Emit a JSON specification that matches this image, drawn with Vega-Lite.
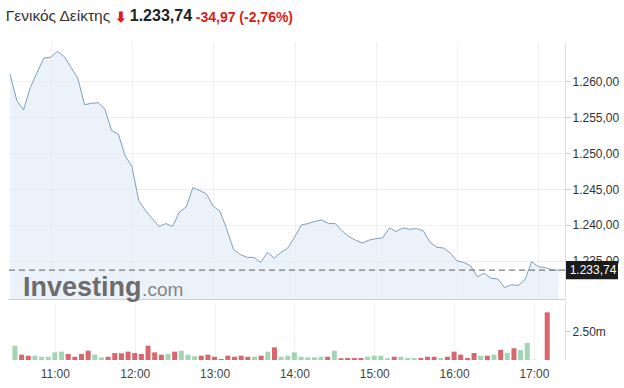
{
  "$schema": "https://vega.github.io/schema/vega-lite/v6.json",
  "padding": {"left": 5, "top": 8, "right": 0, "bottom": 0},
  "spacing": 0,
  "config": {
    "font": "Liberation Sans",
    "view": {"stroke": null},
    "locale": {"number": {"decimal": ",", "thousands": ".", "grouping": [3], "currency": ["", " €"]}}
  },
  "datasets": {
    "s": [
      {"t": "2024-01-02 10:30", "p": 1260.97, "v": 1230000, "d": "up"},
      {"t": "2024-01-02 10:35", "p": 1257.3, "v": 460000, "d": "down"},
      {"t": "2024-01-02 10:40", "p": 1256.0, "v": 370000, "d": "down"},
      {"t": "2024-01-02 10:45", "p": 1259.1, "v": 370000, "d": "up"},
      {"t": "2024-01-02 10:50", "p": 1261.2, "v": 280000, "d": "up"},
      {"t": "2024-01-02 10:55", "p": 1263.2, "v": 280000, "d": "up"},
      {"t": "2024-01-02 11:00", "p": 1263.3, "v": 660000, "d": "up"},
      {"t": "2024-01-02 11:05", "p": 1264.1, "v": 720000, "d": "up"},
      {"t": "2024-01-02 11:10", "p": 1263.4, "v": 520000, "d": "down"},
      {"t": "2024-01-02 11:15", "p": 1261.9, "v": 280000, "d": "down"},
      {"t": "2024-01-02 11:20", "p": 1260.4, "v": 520000, "d": "down"},
      {"t": "2024-01-02 11:25", "p": 1256.7, "v": 800000, "d": "down"},
      {"t": "2024-01-02 11:30", "p": 1256.9, "v": 460000, "d": "up"},
      {"t": "2024-01-02 11:35", "p": 1257.0, "v": 230000, "d": "up"},
      {"t": "2024-01-02 11:40", "p": 1256.1, "v": 280000, "d": "down"},
      {"t": "2024-01-02 11:45", "p": 1253.1, "v": 600000, "d": "down"},
      {"t": "2024-01-02 11:50", "p": 1252.6, "v": 580000, "d": "down"},
      {"t": "2024-01-02 11:55", "p": 1249.6, "v": 720000, "d": "down"},
      {"t": "2024-01-02 12:00", "p": 1248.1, "v": 600000, "d": "down"},
      {"t": "2024-01-02 12:05", "p": 1243.4, "v": 520000, "d": "down"},
      {"t": "2024-01-02 12:10", "p": 1242.0, "v": 1230000, "d": "down"},
      {"t": "2024-01-02 12:15", "p": 1240.9, "v": 660000, "d": "down"},
      {"t": "2024-01-02 12:20", "p": 1239.8, "v": 460000, "d": "down"},
      {"t": "2024-01-02 12:25", "p": 1240.2, "v": 520000, "d": "up"},
      {"t": "2024-01-02 12:30", "p": 1239.8, "v": 720000, "d": "down"},
      {"t": "2024-01-02 12:35", "p": 1241.8, "v": 800000, "d": "up"},
      {"t": "2024-01-02 12:40", "p": 1242.5, "v": 460000, "d": "up"},
      {"t": "2024-01-02 12:45", "p": 1245.2, "v": 320000, "d": "up"},
      {"t": "2024-01-02 12:50", "p": 1244.8, "v": 370000, "d": "down"},
      {"t": "2024-01-02 12:55", "p": 1244.3, "v": 460000, "d": "down"},
      {"t": "2024-01-02 13:00", "p": 1242.6, "v": 280000, "d": "down"},
      {"t": "2024-01-02 13:05", "p": 1241.9, "v": 90000, "d": "down"},
      {"t": "2024-01-02 13:10", "p": 1239.4, "v": 370000, "d": "down"},
      {"t": "2024-01-02 13:15", "p": 1236.6, "v": 280000, "d": "down"},
      {"t": "2024-01-02 13:20", "p": 1235.9, "v": 370000, "d": "down"},
      {"t": "2024-01-02 13:25", "p": 1235.5, "v": 280000, "d": "down"},
      {"t": "2024-01-02 13:30", "p": 1235.5, "v": 280000, "d": "up"},
      {"t": "2024-01-02 13:35", "p": 1234.8, "v": 370000, "d": "down"},
      {"t": "2024-01-02 13:40", "p": 1236.2, "v": 720000, "d": "up"},
      {"t": "2024-01-02 13:45", "p": 1235.4, "v": 1090000, "d": "down"},
      {"t": "2024-01-02 13:50", "p": 1236.2, "v": 280000, "d": "up"},
      {"t": "2024-01-02 13:55", "p": 1236.8, "v": 370000, "d": "up"},
      {"t": "2024-01-02 14:00", "p": 1238.3, "v": 660000, "d": "up"},
      {"t": "2024-01-02 14:05", "p": 1240.0, "v": 280000, "d": "up"},
      {"t": "2024-01-02 14:10", "p": 1240.2, "v": 230000, "d": "up"},
      {"t": "2024-01-02 14:15", "p": 1240.5, "v": 230000, "d": "up"},
      {"t": "2024-01-02 14:20", "p": 1240.7, "v": 280000, "d": "up"},
      {"t": "2024-01-02 14:25", "p": 1240.2, "v": 280000, "d": "down"},
      {"t": "2024-01-02 14:30", "p": 1240.2, "v": 800000, "d": "up"},
      {"t": "2024-01-02 14:35", "p": 1239.2, "v": 150000, "d": "down"},
      {"t": "2024-01-02 14:40", "p": 1238.4, "v": 170000, "d": "down"},
      {"t": "2024-01-02 14:45", "p": 1237.9, "v": 170000, "d": "down"},
      {"t": "2024-01-02 14:50", "p": 1237.5, "v": 170000, "d": "down"},
      {"t": "2024-01-02 14:55", "p": 1237.9, "v": 280000, "d": "up"},
      {"t": "2024-01-02 15:00", "p": 1238.1, "v": 370000, "d": "up"},
      {"t": "2024-01-02 15:05", "p": 1238.2, "v": 370000, "d": "up"},
      {"t": "2024-01-02 15:10", "p": 1239.6, "v": 150000, "d": "up"},
      {"t": "2024-01-02 15:15", "p": 1239.1, "v": 280000, "d": "down"},
      {"t": "2024-01-02 15:20", "p": 1239.6, "v": 280000, "d": "up"},
      {"t": "2024-01-02 15:25", "p": 1239.4, "v": 170000, "d": "up"},
      {"t": "2024-01-02 15:30", "p": 1239.5, "v": 170000, "d": "up"},
      {"t": "2024-01-02 15:35", "p": 1239.2, "v": 170000, "d": "down"},
      {"t": "2024-01-02 15:40", "p": 1237.6, "v": 280000, "d": "down"},
      {"t": "2024-01-02 15:45", "p": 1236.9, "v": 280000, "d": "down"},
      {"t": "2024-01-02 15:50", "p": 1236.8, "v": 170000, "d": "up"},
      {"t": "2024-01-02 15:55", "p": 1236.1, "v": 280000, "d": "down"},
      {"t": "2024-01-02 16:00", "p": 1235.0, "v": 720000, "d": "down"},
      {"t": "2024-01-02 16:05", "p": 1234.8, "v": 460000, "d": "down"},
      {"t": "2024-01-02 16:10", "p": 1234.3, "v": 170000, "d": "down"},
      {"t": "2024-01-02 16:15", "p": 1232.8, "v": 600000, "d": "down"},
      {"t": "2024-01-02 16:20", "p": 1233.3, "v": 370000, "d": "up"},
      {"t": "2024-01-02 16:25", "p": 1232.6, "v": 370000, "d": "down"},
      {"t": "2024-01-02 16:30", "p": 1232.5, "v": 460000, "d": "up"},
      {"t": "2024-01-02 16:35", "p": 1231.3, "v": 860000, "d": "down"},
      {"t": "2024-01-02 16:40", "p": 1231.7, "v": 600000, "d": "up"},
      {"t": "2024-01-02 16:45", "p": 1231.6, "v": 1010000, "d": "down"},
      {"t": "2024-01-02 16:50", "p": 1232.4, "v": 860000, "d": "up"},
      {"t": "2024-01-02 16:55", "p": 1234.9, "v": 1470000, "d": "up"},
      {"t": "2024-01-02 17:00", "p": 1234.2, "v": 30000, "d": "up"},
      {"t": "2024-01-02 17:05", "p": 1234.1, "v": 0, "d": "up"},
      {"t": "2024-01-02 17:10", "p": 1233.75, "v": 4110000, "d": "down"},
      {"t": "2024-01-02 17:15", "p": 1233.74, "v": 0, "d": "down"}
    ]
  },
  "vconcat": [
    {
      "hconcat": [
        {"width": 1, "height": 18, "data": {"values": [{}]}, "mark": {"type": "point", "opacity": 0}, "encoding": {},
         "title": {"text": "Γενικός Δείκτης", "anchor": "start", "fontSize": 15.5, "fontWeight": "normal", "color": "#333333", "offset": 0}},
        {"width": 1, "height": 18, "data": {"values": [{}]}, "mark": {"type": "point", "opacity": 0}, "encoding": {},
         "title": {"text": "⬇", "anchor": "start", "fontSize": 14, "fontWeight": "bold", "color": "#e0161b", "offset": 0, "dy": 1}},
        {"width": 1, "height": 18, "data": {"values": [{}]}, "mark": {"type": "point", "opacity": 0}, "encoding": {},
         "title": {"text": "1.233,74", "anchor": "start", "fontSize": 16, "fontWeight": "bold", "color": "#222222", "offset": 0}},
        {"width": 1, "height": 18, "data": {"values": [{}]}, "mark": {"type": "point", "opacity": 0}, "encoding": {},
         "title": {"text": "-34,97  (-2,76%)", "anchor": "start", "fontSize": 14, "fontWeight": "bold", "color": "#d91e18", "offset": 0, "dy": 1}}
      ],
      "spacing": 2
    },
    {
      "width": 557,
      "height": 257,
      "layer": [
        {
          "data": {"name": "s"},
          "mark": {"type": "area", "color": "#e4edf6", "line": {"color": "#7f9fbd", "strokeWidth": 1}},
          "encoding": {
            "x": {"field": "t", "type": "temporal",
                  "scale": {"domain": [{"year": 2024, "month": 1, "date": 2, "hours": 10, "minutes": 28, "seconds": 31}, {"year": 2024, "month": 1, "date": 2, "hours": 17, "minutes": 19, "seconds": 36}]},
                  "axis": {"orient": "bottom", "labels": false, "ticks": false, "title": null, "domain": true, "domainColor": "#cfcfcf", "grid": true, "gridColor": "#efefef",
                           "values": [{"year": 2024, "month": 1, "date": 2, "hours": 11}, {"year": 2024, "month": 1, "date": 2, "hours": 12}, {"year": 2024, "month": 1, "date": 2, "hours": 13}, {"year": 2024, "month": 1, "date": 2, "hours": 14}, {"year": 2024, "month": 1, "date": 2, "hours": 15}, {"year": 2024, "month": 1, "date": 2, "hours": 16}, {"year": 2024, "month": 1, "date": 2, "hours": 17}]}},
            "y": {"field": "p", "type": "quantitative",
                  "scale": {"domain": [1229.72, 1265.42], "zero": false, "nice": false},
                  "axis": {"orient": "right", "title": null, "values": [1235, 1240, 1245, 1250, 1255, 1260], "format": ",.2f",
                           "grid": true, "gridColor": "#efefef", "domainColor": "#dddddd", "tickColor": "#cccccc", "tickSize": 5,
                           "labelFontSize": 12, "labelColor": "#333333", "labelPadding": 2}},
            "y2": {"datum": 1229.72}
          }
        },
        {
          "data": {"values": [{"last": 1233.74}]},
          "mark": {"type": "rule", "color": "#7a7a7a", "strokeDash": [6, 4], "strokeWidth": 1.3},
          "encoding": {"y": {"field": "last", "type": "quantitative", "title": null}}
        },
        {
          "data": {"values": [{}]},
          "mark": {"type": "rect", "color": "#1b1b1b", "clip": false, "xOffset": 1, "x2Offset": 53},
          "encoding": {
            "x": {"datum": {"year": 2024, "month": 1, "date": 2, "hours": 17, "minutes": 19, "seconds": 36}, "title": null},
            "x2": {"datum": {"year": 2024, "month": 1, "date": 2, "hours": 17, "minutes": 19, "seconds": 36}},
            "y": {"datum": 1232.45, "title": null},
            "y2": {"datum": 1235.0}
          }
        },
        {
          "data": {"values": [{}]},
          "mark": {"type": "text", "text": "1.233,74", "color": "#ffffff", "fontSize": 12, "align": "center", "baseline": "middle", "dx": 28, "clip": false},
          "encoding": {
            "x": {"datum": {"year": 2024, "month": 1, "date": 2, "hours": 17, "minutes": 19, "seconds": 36}, "title": null},
            "y": {"datum": 1233.72, "title": null}
          }
        },
        {
          "data": {"values": [{}]},
          "mark": {"type": "text", "text": "Investing", "color": "#6d6d6d", "fontSize": 27, "fontWeight": "bold", "align": "left", "baseline": "alphabetic", "clip": false},
          "encoding": {
            "x": {"datum": {"year": 2024, "month": 1, "date": 2, "hours": 10, "minutes": 39, "seconds": 35}, "title": null},
            "y": {"datum": 1230.1, "title": null}
          }
        },
        {
          "data": {"values": [{}]},
          "mark": {"type": "text", "text": ".com", "color": "#858585", "fontSize": 19, "align": "left", "baseline": "alphabetic", "clip": false},
          "encoding": {
            "x": {"datum": {"year": 2024, "month": 1, "date": 2, "hours": 12, "minutes": 7, "seconds": 30}, "title": null},
            "y": {"datum": 1230.1, "title": null}
          }
        }
      ]
    },
    {
      "width": 557,
      "height": 58,
      "data": {"name": "s"},
      "mark": {"type": "bar", "width": 5},
      "encoding": {
        "x": {"field": "t", "type": "temporal",
              "scale": {"domain": [{"year": 2024, "month": 1, "date": 2, "hours": 10, "minutes": 28, "seconds": 31}, {"year": 2024, "month": 1, "date": 2, "hours": 17, "minutes": 19, "seconds": 36}]},
              "axis": {"orient": "bottom", "title": null, "format": "%H:%M",
                       "values": [{"year": 2024, "month": 1, "date": 2, "hours": 11}, {"year": 2024, "month": 1, "date": 2, "hours": 12}, {"year": 2024, "month": 1, "date": 2, "hours": 13}, {"year": 2024, "month": 1, "date": 2, "hours": 14}, {"year": 2024, "month": 1, "date": 2, "hours": 15}, {"year": 2024, "month": 1, "date": 2, "hours": 16}, {"year": 2024, "month": 1, "date": 2, "hours": 17}],
                       "grid": true, "gridColor": "#efefef", "domain": false, "ticks": false, "labelPadding": 8,
                       "labelFontSize": 12, "labelColor": "#444444"}},
        "y": {"field": "v", "type": "quantitative",
              "scale": {"domain": [0, 5000000], "nice": false},
              "axis": {"orient": "right", "title": null, "values": [2500000], "grid": false, "domainColor": "#dddddd",
                       "tickColor": "#cccccc", "tickSize": 5, "labelFontSize": 12, "labelColor": "#333333", "labelPadding": 2,
                       "labelExpr": "datum.value / 1000000 + '0m'"}},
        "color": {"field": "d", "type": "nominal", "legend": null,
                  "scale": {"domain": ["up", "down"], "range": ["#a3d5b5", "#d9666d"]}}
      }
    }
  ]
}
